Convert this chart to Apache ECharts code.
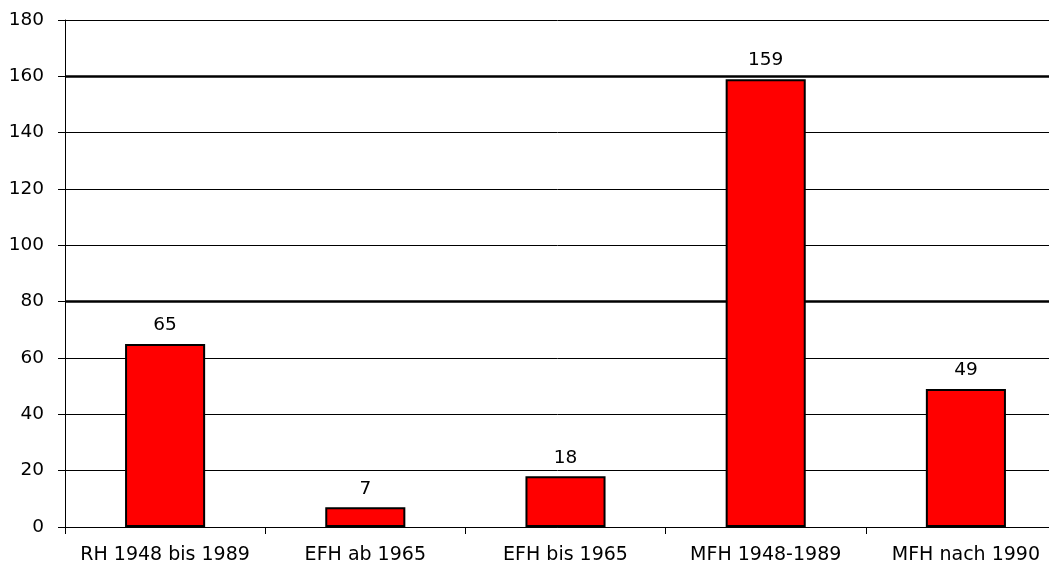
<!DOCTYPE html>
<html>
<head>
<meta charset="utf-8">
<script src="https://cdn.jsdelivr.net/npm/echarts@6/dist/echarts.min.js"></script>
<style>
  html, body { margin: 0; padding: 0; background: #fff; }
  #chart { width: 1049px; height: 565px; }
</style>
</head>
<body>
<div id="chart"></div>
<script>
// Building types and their values
const categories = ['RH 1948 bis 1989', 'EFH ab 1965', 'EFH bis 1965', 'MFH 1948-1989', 'MFH nach 1990'];
const values = [65, 7, 18, 159, 49];
const yTicks = [0, 20, 40, 60, 80, 100, 120, 140, 160, 180];
// Gridlines drawn heavier
const heavyLines = [80, 160];

const FONT = '"DejaVu Sans", sans-serif';
const chart = echarts.init(document.getElementById('chart'), null, { renderer: 'canvas' });

const yMin = yTicks[0];
const yMax = yTicks[yTicks.length - 1];
const yStep = yTicks[1] - yTicks[0];

chart.setOption({
  animation: false,
  backgroundColor: '#ffffff',
  // plot area runs slightly past the right edge of the canvas
  grid: {
    left: 65, top: 20, width: 1001, height: 507,
    containLabel: false,
    outerBoundsMode: 'none'
  },
  xAxis: {
    type: 'category',
    data: categories,
    axisLine: { lineStyle: { color: '#000', width: 1 } },
    axisTick: { show: true, alignWithLabel: false, length: 7, lineStyle: { color: '#000' } },
    axisLabel: { color: '#000', fontFamily: FONT, fontSize: 19, margin: 19, interval: 0 }
  },
  yAxis: {
    type: 'value',
    min: yMin,
    max: yMax,
    interval: yStep,
    axisLine: { show: true, lineStyle: { color: '#000', width: 1 } },
    axisTick: { show: true, length: 7, lineStyle: { color: '#000' } },
    axisLabel: { color: '#000', fontFamily: FONT, fontSize: 18.5, margin: 21 },
    splitLine: { show: true, lineStyle: { color: '#000', width: 1 } }
  },
  series: [
    {
      type: 'bar',
      data: values,
      barWidth: '40%',
      itemStyle: { color: '#ff0000', borderColor: '#000', borderWidth: 2 },
      label: {
        show: true,
        position: 'top',
        distance: 9,
        color: '#000',
        fontFamily: FONT,
        fontSize: 18.5
      },
      markLine: {
        silent: true,
        symbol: 'none',
        label: { show: false },
        lineStyle: { color: '#000', width: 2.5, type: 'solid' },
        data: heavyLines.map(v => ({ yAxis: v })),
        z: 1
      }
    }
  ]
});
</script>
</body>
</html>
